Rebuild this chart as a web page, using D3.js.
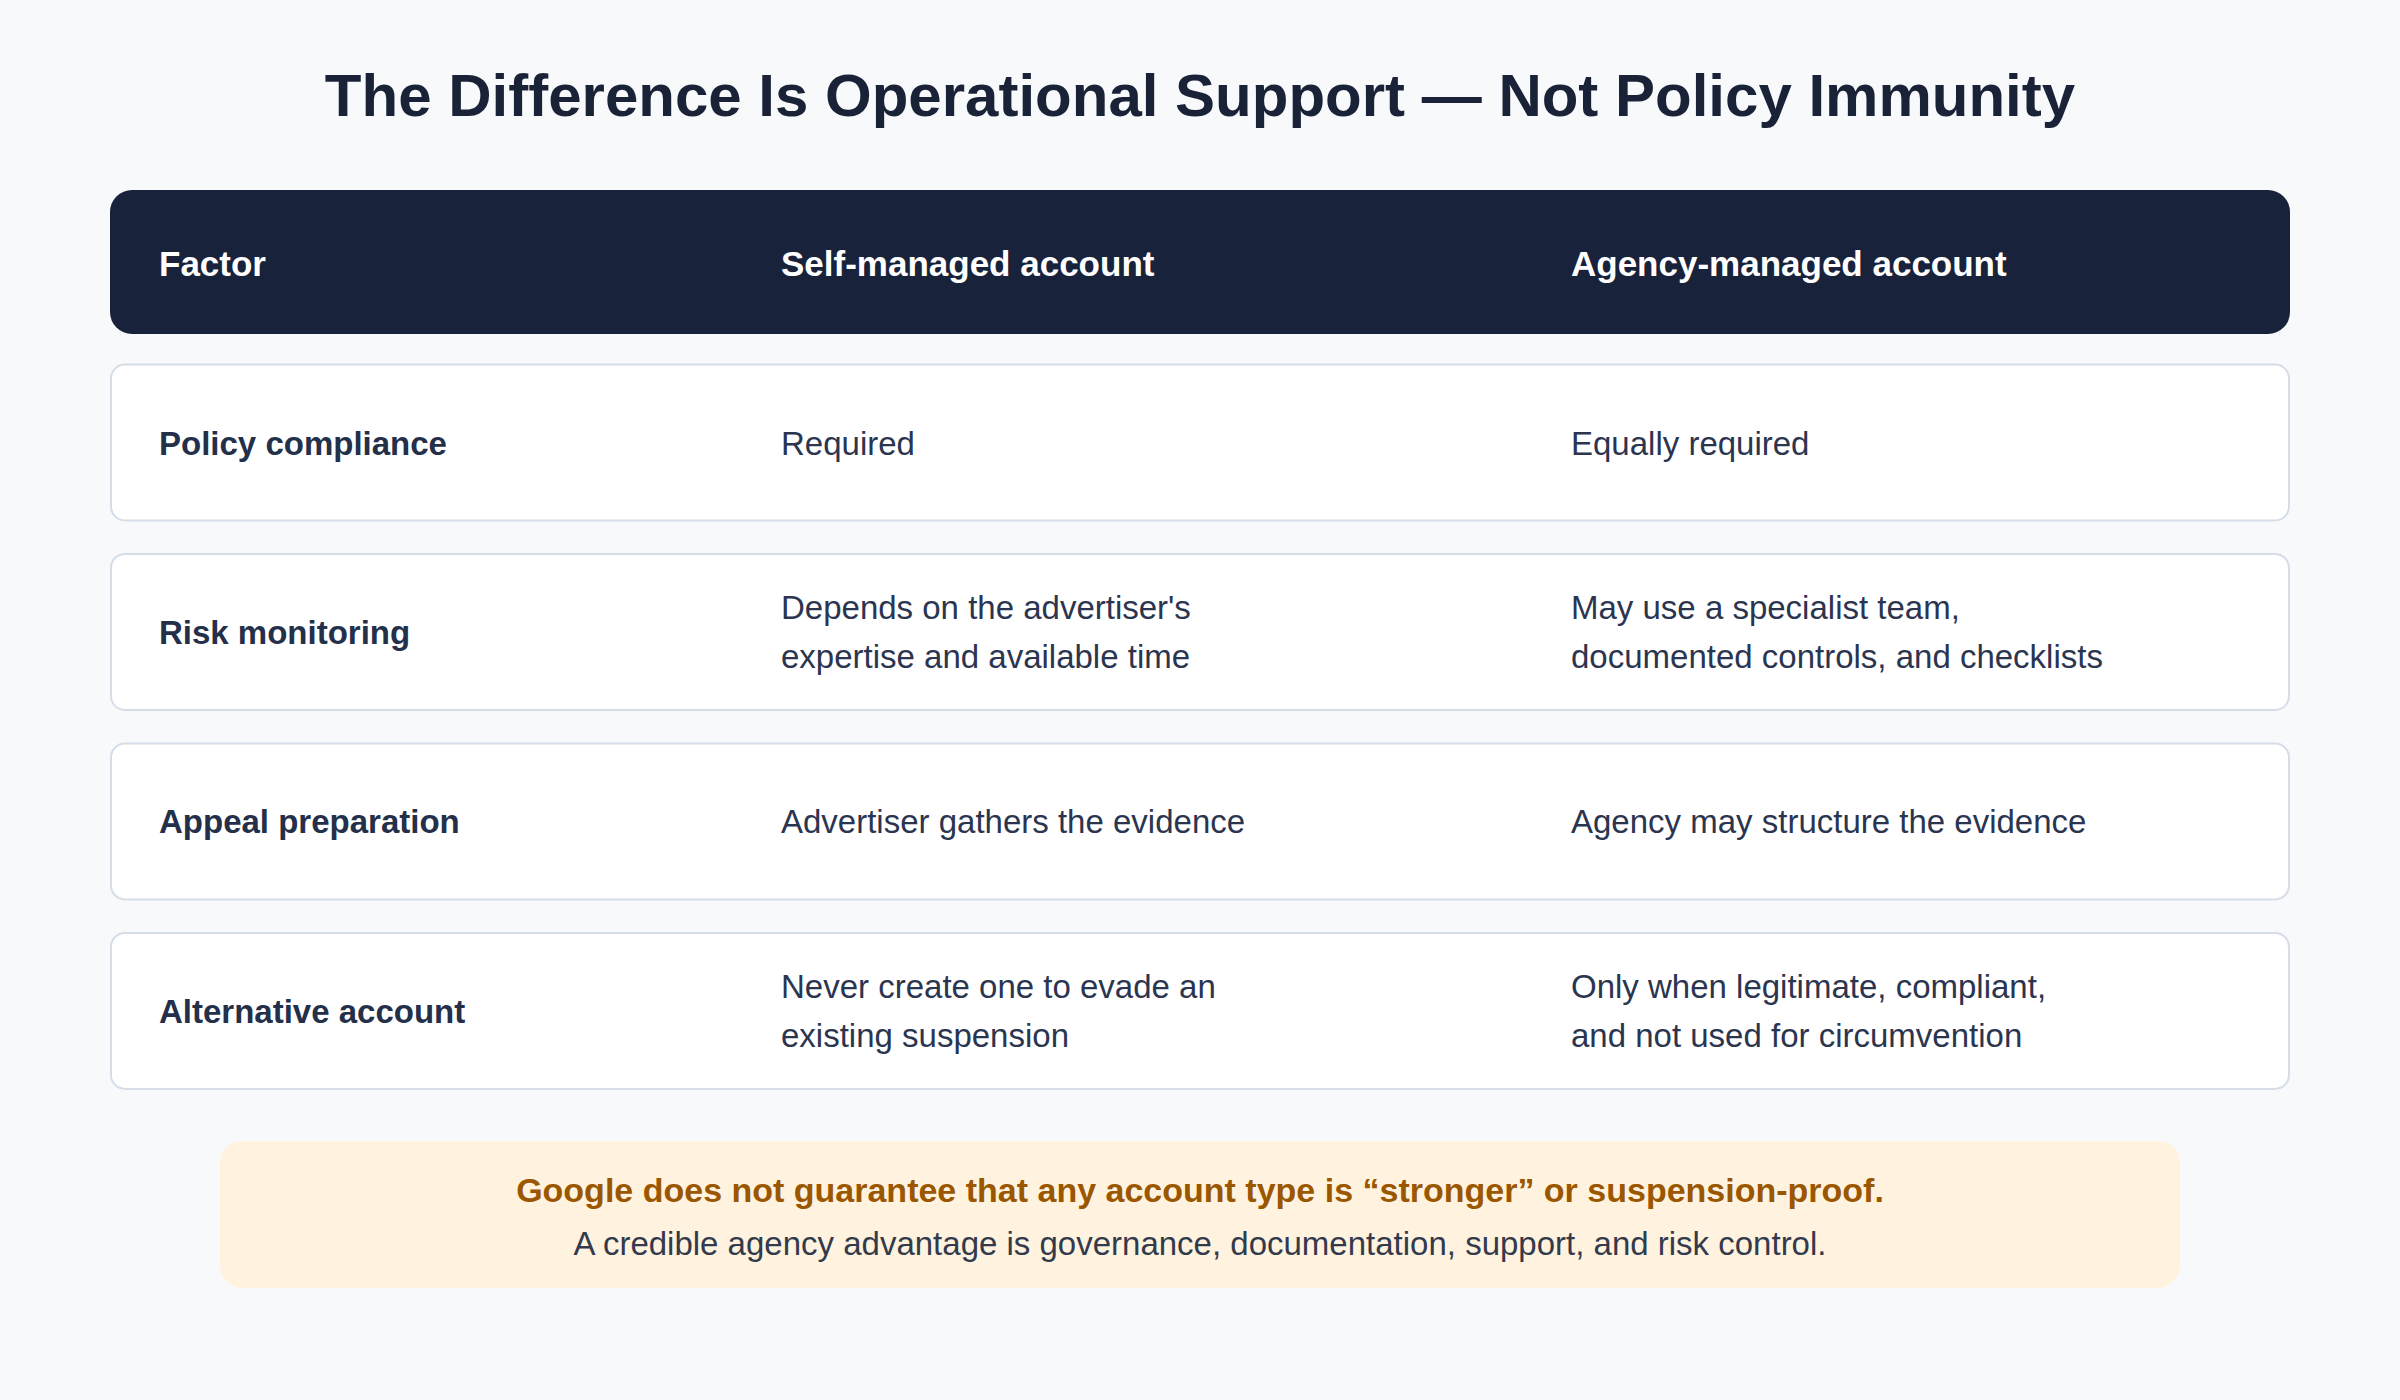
<!DOCTYPE html>
<html>
<head>
<meta charset="utf-8">
<script src="https://cdn.jsdelivr.net/npm/d3@7"></script>
<style>
  body { margin: 0; background: #f7f9fb; }
  svg text { font-family: "Liberation Sans", Arial, sans-serif; }
</style>
</head>
<body>
<div id="chart"></div>
<script>
const W = 2400, H = 1400;

// Data
const title = "The Difference Is Operational Support \u2014 Not Policy Immunity";
const columns = ["Factor", "Self-managed account", "Agency-managed account"];
const factors = ["Policy compliance", "Risk monitoring", "Appeal preparation", "Alternative account"];
const selfManaged = [
  ["Required"],
  ["Depends on the advertiser's", "expertise and available time"],
  ["Advertiser gathers the evidence"],
  ["Never create one to evade an", "existing suspension"]
];
const agencyManaged = [
  ["Equally required"],
  ["May use a specialist team,", "documented controls, and checklists"],
  ["Agency may structure the evidence"],
  ["Only when legitimate, compliant,", "and not used for circumvention"]
];
const noteLines = [
  "Google does not guarantee that any account type is \u201cstronger\u201d or suspension-proof.",
  "A credible agency advantage is governance, documentation, support, and risk control."
];

const svg = d3.select("#chart")
  .append("svg")
  .attr("width", W)
  .attr("height", H);

svg.append("rect").attr("width", W).attr("height", H).attr("fill", "#f7f9fb");

// Title
svg.append("text")
  .attr("x", W / 2)
  .attr("y", 95)
  .attr("text-anchor", "middle")
  .attr("dominant-baseline", "central")
  .style("font-size", "60px")
  .style("font-weight", "700")
  .style("fill", "#1a2238")
  .text(title);

const left = 110, right = 2290;
const colX = d3.scaleOrdinal().domain(columns).range([159, 781, 1571]);

// Header
svg.append("rect")
  .attr("x", left).attr("y", 190)
  .attr("width", right - left).attr("height", 144)
  .attr("rx", 22)
  .attr("fill", "#19223b");

svg.selectAll(".head")
  .data(columns)
  .enter()
  .append("text")
  .attr("x", d => colX(d))
  .attr("y", 263)
  .attr("dominant-baseline", "central")
  .style("font-size", "35px")
  .style("font-weight", "700")
  .style("fill", "#ffffff")
  .text(d => d);

// Rows
const y = d3.scaleBand()
  .domain(factors)
  .range([364, 1067 + 27])
  .paddingInner(0.147)
  .paddingOuter(0);

const rows = svg.selectAll(".row")
  .data(factors)
  .enter()
  .append("g")
  .attr("transform", d => `translate(0,${y(d)})`);

rows.append("rect")
  .attr("x", left + 1).attr("y", 0.5)
  .attr("width", right - left - 2).attr("height", 156)
  .attr("rx", 14)
  .attr("fill", "#ffffff")
  .attr("stroke", "#d5dde8")
  .attr("stroke-width", 2);

rows.append("text")
  .attr("x", colX(columns[0]))
  .attr("y", 79)
  .attr("dominant-baseline", "central")
  .style("font-size", "33px")
  .style("font-weight", "700")
  .style("fill", "#24304a")
  .text(d => d);

function addLines(g, lines, x) {
  const lh = 49;
  const y0 = 79 - (lines.length - 1) * lh / 2;
  lines.forEach((t, i) => {
    g.append("text")
      .attr("x", x)
      .attr("y", y0 + i * lh)
      .attr("dominant-baseline", "central")
      .style("font-size", "33px")
      .style("fill", "#2b3550")
      .text(t);
  });
}

rows.each(function(d, i) {
  const g = d3.select(this);
  addLines(g, selfManaged[i], colX(columns[1]));
  addLines(g, agencyManaged[i], colX(columns[2]));
});

// Note box
svg.append("rect")
  .attr("x", 220).attr("y", 1141)
  .attr("width", 1960).attr("height", 147)
  .attr("rx", 22)
  .attr("fill", "#fff3df");

svg.append("text")
  .attr("x", W / 2).attr("y", 1190)
  .attr("text-anchor", "middle")
  .attr("dominant-baseline", "central")
  .style("font-size", "34px")
  .style("font-weight", "700")
  .style("fill", "#9a5700")
  .text(noteLines[0]);

svg.append("text")
  .attr("x", W / 2).attr("y", 1243)
  .attr("text-anchor", "middle")
  .attr("dominant-baseline", "central")
  .style("font-size", "33px")
  .style("fill", "#333a4c")
  .text(noteLines[1]);
</script>
</body>
</html>
